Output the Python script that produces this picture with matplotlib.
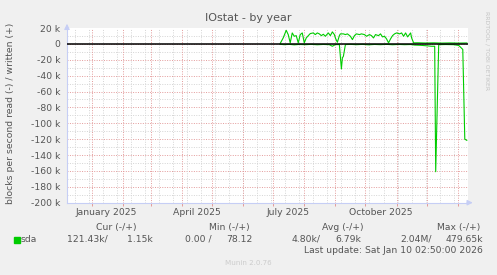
import matplotlib
matplotlib.use('Agg')
import matplotlib.pyplot as plt
from matplotlib.patches import Rectangle
import numpy as np

# blocks per second, in thousands (read plotted negative)
write_dates = ['2025-07-08', '2025-07-11', '2025-07-14', '2025-07-16', '2025-07-18',
               '2025-07-20', '2025-07-22', '2025-07-24', '2025-07-26', '2025-07-28',
               '2025-07-30', '2025-08-01', '2025-08-03', '2025-08-06', '2025-08-07',
               '2025-08-10', '2025-08-12', '2025-08-14', '2025-08-16', '2025-08-18',
               '2025-08-20', '2025-08-22', '2025-08-25', '2025-08-27', '2025-08-29',
               '2025-08-31', '2025-09-01', '2025-09-03', '2025-09-05', '2025-09-06',
               '2025-09-09', '2025-09-11', '2025-09-13', '2025-09-16', '2025-09-18',
               '2025-09-20', '2025-09-22', '2025-09-25', '2025-09-27', '2025-09-30',
               '2025-10-02', '2025-10-05', '2025-10-07', '2025-10-09', '2025-10-11',
               '2025-10-14', '2025-10-16', '2025-10-18', '2025-10-20', '2025-10-22',
               '2025-10-24', '2025-10-26', '2025-10-28', '2025-10-30', '2025-11-01',
               '2025-11-04', '2025-11-06', '2025-11-08', '2025-11-10', '2025-11-12',
               '2025-11-15', '2025-11-16', '2025-11-18', '2025-11-22', '2025-11-30',
               '2025-12-08', '2025-12-16', '2025-12-24', '2026-01-02', '2026-01-10']
write_k = [0.5, 7.5, 17.1, 11.7, 1.3,
           13.8, 9.6, 10.4, 1.3, 11.7,
           13.8, 1.3, 7.5, 11.7, 13.0,
           13.8, 11.7, 13.8, 12.6, 10.4,
           12.1, 9.6, 13.8, 10.4, 15.1,
           11.7, 7.5, 2.0, 10.4, 12.6,
           12.6, 11.7, 12.6, 9.6, 5.4,
           10.4, 12.6, 11.7, 12.6, 11.7,
           9.6, 11.7, 10.4, 7.5, 11.7,
           10.4, 12.6, 8.8, 9.6, 6.3,
           1.3, 6.3, 10.4, 12.6, 13.8,
           12.6, 13.8, 9.6, 13.8, 8.8,
           13.8, 7.5, 1.3, 1.4, 1.1,
           1.3, 1.0, 1.2, 1.0, 1.15]

read_dates = ['2025-07-08', '2025-07-12', '2025-07-17', '2025-07-22', '2025-07-27',
              '2025-08-02', '2025-08-08', '2025-08-14', '2025-08-20', '2025-08-26',
              '2025-08-29', '2025-09-01', '2025-09-05', '2025-09-07', '2025-09-08',
              '2025-09-09', '2025-09-11', '2025-09-16', '2025-09-22', '2025-09-28',
              '2025-10-04', '2025-10-10', '2025-10-16', '2025-10-22', '2025-10-28',
              '2025-11-03', '2025-11-09', '2025-11-15', '2025-11-19', '2025-11-25',
              '2025-12-02', '2025-12-06', '2025-12-09', '2025-12-10', '2025-12-13',
              '2025-12-20', '2025-12-28', '2026-01-02', '2026-01-06', '2026-01-08',
              '2026-01-10']
read_k = [0.5, 1.0, 0.6, 1.2, 0.7,
          1.0, 0.6, 1.1, 0.7, 1.0,
          3.0, 0.9, 0.9, 31.5, 17.6,
          15.6, 0.9, 0.6, 1.0, 0.6,
          1.2, 0.7, 1.0, 0.6, 1.1,
          0.7, 1.0, 0.8, 1.5, 1.8,
          2.5, 3.0, 3.0, 161.0, 1.0,
          0.8, 1.0, 2.0, 7.0, 120.0,
          121.43]

x_start = np.datetime64('2024-12-07T12:00')
x_end = np.datetime64('2026-01-11T12:00')

month_lines = np.arange(np.datetime64('2025-01'), np.datetime64('2026-02'), np.timedelta64(1, 'M')).astype('datetime64[D]')
week_lines = np.arange(np.datetime64('2024-12-15'), np.datetime64('2026-01-12'), np.timedelta64(14, 'D'))
label_dates = [np.datetime64('2025-01-16'), np.datetime64('2025-04-16'),
               np.datetime64('2025-07-16'), np.datetime64('2025-10-16')]
label_text = ['January 2025', 'April 2025', 'July 2025', 'October 2025']

legend_heads = ['Cur (-/+)', 'Min (-/+)', 'Avg (-/+)', 'Max (-/+)']
legend_vals = ['121.43k/', '1.15k', '0.00 /', '78.12', '4.80k/', '6.79k', '2.04M/', '479.65k']

W, H = 497, 275
fig = plt.figure(figsize=(W / 100, H / 100), dpi=100, facecolor='#f0f0f0')
ax = fig.add_axes([67 / W, 1 - 202.7 / H, 401.3 / W, 174.7 / H])
ax.set_facecolor('white')

txt = '#555555'
green = '#00cc00'
axis_col = '#c6cef5'

# grid
for v in range(-190, 20, 20):
    ax.axhline(v, color='#d4d4d4', lw=0.7, ls=(0, (1, 1.5)), zorder=1)
for v in range(-180, 20, 20):
    ax.axhline(v, color='#e39a9a', lw=0.7, ls=(0, (1, 1.5)), zorder=1)
for d in week_lines:
    ax.axvline(d, color='#d4d4d4', lw=0.7, ls=(0, (1, 1.5)), zorder=1)
for d in month_lines:
    ax.axvline(d, color='#e39a9a', lw=0.7, ls=(0, (1, 1.5)), zorder=1)

ax.plot(np.array(write_dates, dtype='datetime64[D]'), write_k, color=green, lw=0.8, zorder=3)
ax.plot(np.array(read_dates, dtype='datetime64[D]'), -np.array(read_k), color=green, lw=0.8, zorder=3)
ax.axhline(0, color='black', lw=1.1, zorder=4)

ax.set_xlim(x_start, x_end)
ax.set_ylim(-200, 20)

ax.set_yticks(range(-200, 21, 20))
ax.set_yticklabels(['0' if v == 0 else f'{v} k' for v in range(-200, 21, 20)])
ax.tick_params(axis='y', length=0, pad=5, labelsize=6.7, labelcolor=txt)

ax.set_xticks(month_lines)
ax.set_xticklabels([])
ax.tick_params(axis='x', which='major', length=2, color='#e39a9a', width=0.7)
ax.set_xticks(label_dates, minor=True)
ax.set_xticklabels(label_text, minor=True)
ax.tick_params(axis='x', which='minor', length=0, pad=4, labelsize=6.7, labelcolor=txt)

for s in ['top', 'right']:
    ax.spines[s].set_visible(False)
for s in ['left', 'bottom']:
    ax.spines[s].set_color(axis_col)
    ax.spines[s].set_linewidth(0.8)
ax.annotate('', xy=(0, 1.04), xytext=(0, 0.98), xycoords='axes fraction',
            arrowprops=dict(arrowstyle='-|>', color=axis_col, lw=0.8, mutation_scale=8))
ax.annotate('', xy=(1.018, 0), xytext=(0.99, 0), xycoords='axes fraction',
            arrowprops=dict(arrowstyle='-|>', color=axis_col, lw=0.8, mutation_scale=8))


def ftext(x, y, s, **kw):
    kw.setdefault('fontsize', 6.7)
    kw.setdefault('color', txt)
    fig.text(x / W, 1 - y / H, s, va='center', **kw)


ftext(248, 18, 'IOstat - by year', ha='center', fontsize=8)
ftext(10.8, 113, 'blocks per second read (-) / written (+)', ha='center', rotation=90)
ftext(487, 51, 'RRDTOOL / TOBI OETIKER', ha='center', rotation=270, fontsize=4.4, color='#c4c4c4')

head_right = [136.7, 249.7, 364, 480.5]
for h, xr in zip(legend_heads, head_right):
    ftext(xr, 227.3, h, ha='right')

fig.patches.append(Rectangle((14 / W, 1 - 242.5 / H), 5.5 / W, 5.5 / H,
                             transform=fig.transFigure, color=green))
ftext(20.7, 239.3, 'sda', ha='left')
val_right = [107.3, 152.3, 211.7, 252.5, 320.7, 361.7, 431.7, 482.7]
for v, xr in zip(legend_vals, val_right):
    ftext(xr, 239.3, v, ha='right')

ftext(482.5, 250.7, 'Last update: Sat Jan 10 02:50:00 2026', ha='right')
ftext(248, 262.7, 'Munin 2.0.76', ha='center', fontsize=5.1, color='#cccccc')

fig.savefig('out.png', dpi=100, facecolor=fig.get_facecolor())
